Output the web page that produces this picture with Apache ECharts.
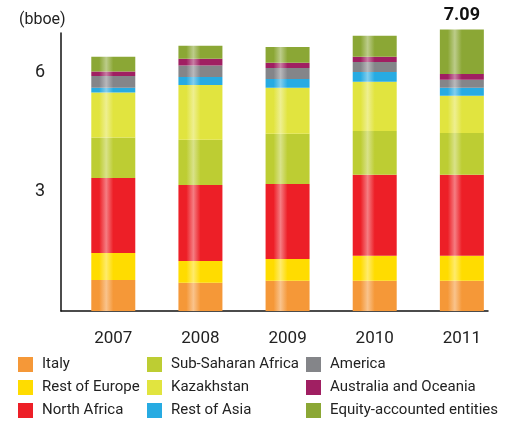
<!DOCTYPE html>
<html>
<head>
<meta charset="utf-8">
<script src="https://cdn.jsdelivr.net/npm/echarts@6/dist/echarts.min.js"></script>
<style>
  html, body { margin: 0; padding: 0; background: #fff; }
  #chart { width: 516px; height: 421px; }
</style>
</head>
<body>
<div id="chart"></div>
<script>
const years = ['2007', '2008', '2009', '2010', '2011'];

const italy        = [0.78, 0.71, 0.76, 0.76, 0.76];
const restEurope   = [0.68, 0.55, 0.55, 0.63, 0.63];
const northAfrica  = [1.89, 1.91, 1.89, 2.04, 2.04];
const subSaharan   = [1.02, 1.14, 1.26, 1.10, 1.05];
const kazakhstan   = [1.13, 1.38, 1.16, 1.24, 0.94];
const restAsia     = [0.12, 0.20, 0.22, 0.25, 0.20];
const america      = [0.30, 0.29, 0.28, 0.25, 0.20];
const australia    = [0.11, 0.17, 0.13, 0.13, 0.15];
const equity       = [0.37, 0.33, 0.40, 0.53, 1.12];

const yTicks = [3, 6];
const highlightYear = '2011';

const seriesDefs = [
  { name: 'Italy', data: italy, color: '#F59838' },
  { name: 'Rest of Europe', data: restEurope, color: '#FFDC00' },
  { name: 'North Africa', data: northAfrica, color: '#ED1F27' },
  { name: 'Sub-Saharan Africa', data: subSaharan, color: '#BDCD33' },
  { name: 'Kazakhstan', data: kazakhstan, color: '#E1E43F' },
  { name: 'Rest of Asia', data: restAsia, color: '#27ABE2' },
  { name: 'America', data: america, color: '#848589' },
  { name: 'Australia and Oceania', data: australia, color: '#A01F62' },
  { name: 'Equity-accounted entities', data: equity, color: '#8BA735' }
];

const totals = years.map((_, i) => seriesDefs.reduce((s, d) => s + d.data[i], 0));

// lighten a hex colour towards white
const lighten = (hex, t) => {
  const n = parseInt(hex.slice(1), 16);
  const r = (n >> 16) & 255, g = (n >> 8) & 255, b = n & 255;
  const m = v => Math.round(v + (255 - v) * t);
  return `rgb(${m(r)},${m(g)},${m(b)})`;
};

// glossy vertical stripe like the original artwork
const gloss = c => new echarts.graphic.LinearGradient(0, 0, 1, 0, [
  { offset: 0, color: c },
  { offset: 0.18, color: c },
  { offset: 0.34, color: lighten(c, 0.42) },
  { offset: 0.5, color: c },
  { offset: 1, color: c }
]);

const font = 'Roboto, "DejaVu Sans", sans-serif';
const hiIdx = years.indexOf(highlightYear);

// value first so the stack runs on the y dimension
const series = seriesDefs.map((d, si) => ({
  name: d.name,
  type: 'bar',
  stack: 'total',
  barWidth: 44,
  clip: false,
  encode: { x: 1, y: 0 },
  itemStyle: { color: gloss(d.color) },
  emphasis: { disabled: true },
  data: d.data.map((v, i) => {
    const item = { value: [v, i] };
    if (si === seriesDefs.length - 1 && i === hiIdx) {
      item.label = {
        show: true,
        position: 'top',
        distance: 5,
        formatter: () => totals[i].toFixed(2),
        fontFamily: font,
        fontSize: 18,
        fontWeight: 'bold',
        color: '#111'
      };
    }
    return item;
  })
}));

const legendCol = (names, left) => ({
  orient: 'vertical',
  left: left,
  top: 357,
  padding: 0,
  itemWidth: 15,
  itemHeight: 15,
  itemGap: 8,
  icon: 'rect',
  selectedMode: false,
  textStyle: { fontFamily: font, fontSize: 15, color: '#222', padding: [0, 0, 0, 4] },
  data: names.map(n => ({
    name: n,
    itemStyle: { color: seriesDefs.find(d => d.name === n).color }
  }))
});

const chart = echarts.init(document.getElementById('chart'));
chart.setOption({
  animation: false,
  backgroundColor: '#fff',
  title: {
    text: '(bboe)',
    left: 14,
    top: 7,
    textStyle: { fontFamily: font, fontSize: 16, fontWeight: 'normal', color: '#222' }
  },
  legend: [
    legendCol(seriesDefs.slice(0, 3).map(d => d.name), 18),
    legendCol(seriesDefs.slice(3, 6).map(d => d.name), 147),
    legendCol(seriesDefs.slice(6, 9).map(d => d.name), 306)
  ],
  grid: { left: 61, right: 28, top: 33, bottom: 110, outerBoundsMode: 'none' },
  xAxis: {
    type: 'value',
    min: -0.6,
    max: 4.3,
    axisLine: { show: true, onZero: false, lineStyle: { color: '#111', width: 1.5 } },
    axisTick: { show: false },
    splitLine: { show: false },
    axisLabel: {
      customValues: years.map((_, i) => i),
      formatter: v => years[v],
      margin: 19,
      fontFamily: font,
      fontSize: 17,
      color: '#222'
    }
  },
  yAxis: {
    type: 'value',
    min: 0,
    max: 7,
    axisLine: { show: true, onZero: false, lineStyle: { color: '#111', width: 1.5 } },
    axisTick: { show: false },
    splitLine: { show: false },
    axisLabel: {
      customValues: yTicks,
      margin: 16,
      fontFamily: font,
      fontSize: 18,
      color: '#222'
    }
  },
  series: series
});
</script>
</body>
</html>
